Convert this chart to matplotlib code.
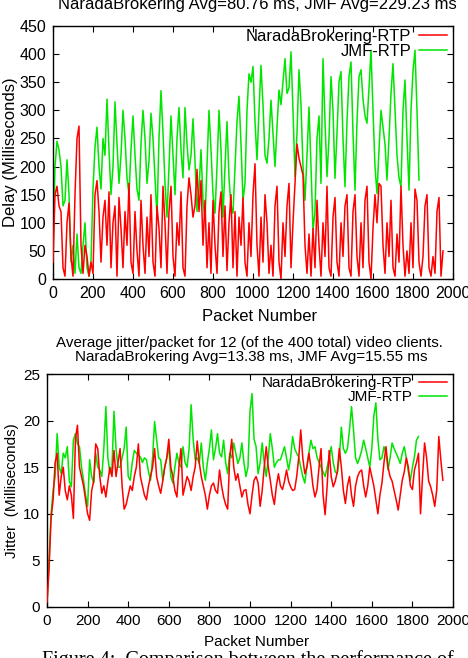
import numpy as np
import matplotlib
matplotlib.use("Agg")
import matplotlib.pyplot as plt

plt.rcParams['font.family'] = ['Liberation Sans', 'DejaVu Sans']

# ---------------- data (every 10 packets) ----------------
delay_step = 10
nb_delay = [30, 150, 165, 130, 120, 20, 5, 100, 135, 40, 5, 150, 250, 272, 60, 10, 60, 40, 5, 30,
            10, 150, 175, 120, 30, 110, 140, 60, 155, 20, 100, 130, 5, 145, 90, 20, 120, 60, 170, 30,
            10, 120, 50, 5, 140, 60, 10, 110, 40, 150, 30, 5, 130, 90, 20, 165, 100, 10, 120, 165,
            40, 5, 100, 60, 155, 20, 5, 130, 180, 150, 110, 130, 195, 120, 175, 60, 140, 20, 100, 10,
            140, 60, 10, 120, 155, 40, 130, 15, 100, 150, 20, 120, 5, 110, 60, 145, 30, 5, 100, 40,
            150, 205, 60, 5, 110, 30, 150, 100, 10, 60, 5, 130, 165, 30, 0, 100, 40, 130, 170, 20,
            100, 170, 240, 215, 200, 185, 60, 10, 80, 5, 90, 20, 140, 60, 5, 100, 40, 165, 20, 5,
            110, 145, 30, 5, 100, 40, 130, 150, 20, 5, 120, 150, 40, 5, 100, 20, 140, 165, 30, 0,
            90, 150, 100, 170, 165, 60, 10, 100, 40, 140, 20, 5, 80, 30, 165, 60, 5, 50, 10, 100,
            20, 160, 140, 30, 5, 40, 130, 150, 20, 5, 40, 10, 120, 145, 5, 50]
jmf_delay = [50, 200, 245, 230, 200, 130, 140, 212, 150, 30, 60, 10, 80, 20, 10, 60, 100, 20, 5, 30,
             160, 235, 270, 200, 160, 250, 220, 320, 230, 150, 200, 315, 240, 170, 220, 300, 250, 180, 150, 230,
             290, 220, 160, 140, 240, 300, 250, 170, 210, 295, 250, 180, 110, 250, 335, 260, 170, 110, 200, 290,
             220, 150, 250, 305, 230, 180, 305, 240, 194, 220, 285, 210, 120, 160, 230, 140, 105, 200, 300, 230,
             150, 117, 200, 300, 230, 110, 200, 280, 180, 130, 117, 200, 280, 325, 240, 140, 170, 300, 365, 350,
             378, 280, 212, 300, 380, 310, 220, 206, 250, 318, 260, 200, 270, 336, 310, 350, 392, 330, 340, 404,
             300, 182, 260, 372, 310, 200, 140, 220, 306, 200, 87, 120, 250, 290, 170, 392, 280, 182, 250, 360,
             300, 179, 260, 350, 369, 250, 164, 280, 360, 386, 260, 158, 280, 360, 372, 320, 290, 277, 340, 407,
             300, 200, 152, 230, 300, 270, 240, 176, 250, 330, 383, 300, 220, 180, 164, 300, 354, 250, 158, 300,
             370, 407, 300, 176]

jitter_step = 10
nb_jitter = [0.5, 4, 9.5, 11.5, 15.5, 16.5, 12, 14, 15, 12.5, 11.5, 13, 12, 9.5, 18, 19.5, 15, 14, 13, 11.5,
             10, 9.3, 12.5, 13.5, 17.5, 17, 14, 12.2, 13, 11.8, 13.5, 15, 14, 16.8, 14, 15.5, 17, 13, 10.5, 11,
             12, 13, 12.5, 14, 15, 17.5, 14, 13, 12, 11.5, 13, 14, 15, 17, 14, 13, 12.2, 13.5, 15, 16,
             18, 15, 14, 12.5, 11.8, 15, 17, 12, 13, 14, 13.5, 12.5, 14, 15, 17.8, 15.5, 14, 13, 12, 10.5,
             12, 13, 13.3, 12.5, 12.2, 14.7, 13, 11.8, 11, 10.5, 16, 18, 15, 13.6, 14.3, 13, 11.8, 12.5, 12.6, 11,
             10, 12, 13.6, 14, 13.3, 10.8, 12.5, 15, 17.2, 15, 13.6, 12, 11, 13, 14.3, 13, 12.6, 13.5, 14.7, 13.5,
             12.9, 12.5, 12.6, 14, 16, 19, 16, 14.3, 15, 16.5, 15, 13, 11.8, 12.6, 15, 17, 12, 9.9, 13, 16.8,
             14, 12.9, 13.5, 14.5, 17, 15, 12.5, 11.1, 13, 14, 12, 10.8, 13, 14, 14.5, 14.7, 13, 11.8, 13, 15,
             14, 13, 11.5, 10, 12, 13.3, 15.5, 17.2, 15, 14, 13.5, 12.5, 11.5, 10.4, 12, 13.6, 14.5, 16, 15, 13,
             12.6, 14.7, 15.5, 16.5, 10, 14, 17.6, 16, 13.5, 12.9, 12, 10.8, 12.6, 18.3, 15.8, 13.6]
jmf_jitter = [0.5, 5, 10, 12.5, 14, 18.6, 15, 14.3, 16.5, 16, 17.2, 13.5, 12.9, 17.9, 18.6, 17.5, 17.2, 15, 13.6, 12,
              10.8, 15.8, 14, 13.3, 16.5, 15, 14.7, 14, 17, 21.5, 16, 14.3, 15, 21, 17, 15, 15, 16, 17, 19.3,
              14, 13.6, 15.5, 16.8, 16.5, 16.3, 16.1, 15.5, 16, 15.8, 14.5, 13.6, 16, 19.9, 18, 16, 15.8, 13.6, 15, 16,
              17.2, 14, 13.3, 15, 16.5, 15.4, 15, 17.2, 15.5, 15, 17, 21.7, 18, 15.8, 16, 15.4, 17.6, 15, 13.6, 15.5,
              17, 19, 15.8, 17, 18.6, 16.5, 16.1, 17.9, 15.5, 14.3, 16.5, 16, 17.6, 16.5, 15.4, 16, 17.6, 15.5, 14, 15,
              21, 22.9, 18, 17.2, 14.3, 15.5, 17.6, 15.5, 14, 16, 18.6, 17, 15, 15.5, 15.8, 15.8, 16.5, 17.2, 16, 14.7,
              16, 18.3, 17, 16.5, 16.1, 15, 14, 13.3, 15, 16.5, 17.9, 17, 17.2, 16.1, 15.5, 15, 14.5, 14, 15, 16,
              17.2, 15.5, 14.5, 14.3, 16, 19.3, 17, 16.5, 17, 19, 21.5, 19, 16, 15.4, 16, 16.8, 17.9, 17, 16, 15,
              17, 20.5, 21.9, 18, 15.8, 16, 17.2, 16.5, 14.7, 16, 17.6, 17, 16.5, 16, 15.4, 16.5, 17.2, 16, 14.5, 13.6,
              15, 16.1, 17.9, 18.3]

series_labels = ["NaradaBrokering-RTP", "JMF-RTP"]
colors = ["#ff0000", "#00e600"]

top_title = "NaradaBrokering Avg=80.76 ms, JMF Avg=229.23 ms"
bot_title1 = "Average jitter/packet for 12 (of the 400 total) video clients."
bot_title2 = "NaradaBrokering Avg=13.38 ms, JMF Avg=15.55 ms"
caption = "Figure 4:  Comparison between the performance of"

W, H = 468, 658
fig = plt.figure(figsize=(W / 100, H / 100), dpi=100)


def axes_px(l, t, r, b):
    return fig.add_axes([l / W, 1 - b / H, (r - l) / W, (b - t) / H])


def style(ax, fs):
    for s in ax.spines.values():
        s.set_linewidth(1.0)
    ax.tick_params(direction='in', top=True, right=True, length=4, width=0.8,
                   labelsize=fs, pad=5)


# ---------------- top: delay ----------------
ax1 = axes_px(53, 26, 453, 279)
x_nb = np.arange(len(nb_delay)) * delay_step
x_jmf = np.arange(len(jmf_delay)) * delay_step
ax1.plot(x_nb, nb_delay, color=colors[0], lw=1.1, label=series_labels[0], zorder=3)
ax1.plot(x_jmf, jmf_delay, color=colors[1], lw=1.1, label=series_labels[1], zorder=2)
ax1.set_xlim(0, 2000)
ax1.set_ylim(0, 450)
ax1.set_xticks(np.arange(0, 2001, 200))
ax1.set_yticks(np.arange(0, 451, 50))
style(ax1, 11.5)
ax1.set_xlabel("Packet Number", fontsize=12)
ax1.set_ylabel("Delay (Milliseconds)", fontsize=12)
ax1.xaxis.set_label_coords(0.5175, -0.118)
ax1.yaxis.set_label_coords(-0.088, 0.5)
ax1.legend(loc='upper right', bbox_to_anchor=(0.985, 0.99), frameon=False, markerfirst=False,
           fontsize=12, handlelength=1.7, handletextpad=0.45, labelspacing=0.0,
           borderaxespad=0.0, borderpad=0.0)
fig.text(257 / W, 1 - 9.5 / H, top_title, ha='center', va='baseline', fontsize=12)

# ---------------- bottom: jitter ----------------
ax2 = axes_px(47, 374, 453, 607)
xj_nb = np.arange(len(nb_jitter)) * jitter_step
xj_jmf = np.arange(len(jmf_jitter)) * jitter_step
ax2.plot(xj_nb, nb_jitter, color=colors[0], lw=1.1, label=series_labels[0], zorder=3)
ax2.plot(xj_jmf, jmf_jitter, color=colors[1], lw=1.1, label=series_labels[1], zorder=2)
ax2.set_xlim(0, 2000)
ax2.set_ylim(0, 25)
ax2.set_xticks(np.arange(0, 2001, 200))
ax2.set_yticks(np.arange(0, 26, 5))
style(ax2, 11)
ax2.set_xlabel("Packet Number", fontsize=11)
ax2.set_ylabel("Jitter  (Milliseconds)", fontsize=11)
ax2.xaxis.set_label_coords(0.517, -0.12)
ax2.yaxis.set_label_coords(-0.07, 0.5)
ax2.legend(loc='upper right', bbox_to_anchor=(0.985, 0.99), frameon=False, markerfirst=False,
           fontsize=11, handlelength=1.8, handletextpad=0.45, labelspacing=0.0,
           borderaxespad=0.0, borderpad=0.0)
fig.text(249 / W, 1 - 347.3 / H, bot_title1, ha='center', va='baseline', fontsize=10.9)
fig.text(251.5 / W, 1 - 360.7 / H, bot_title2, ha='center', va='baseline', fontsize=10.9)

fig.text(42 / W, 1 - 650 / H, caption, ha='left', va='top', fontsize=14.5,
         family=['Liberation Serif', 'DejaVu Serif'])

fig.savefig("out.png", dpi=100)
